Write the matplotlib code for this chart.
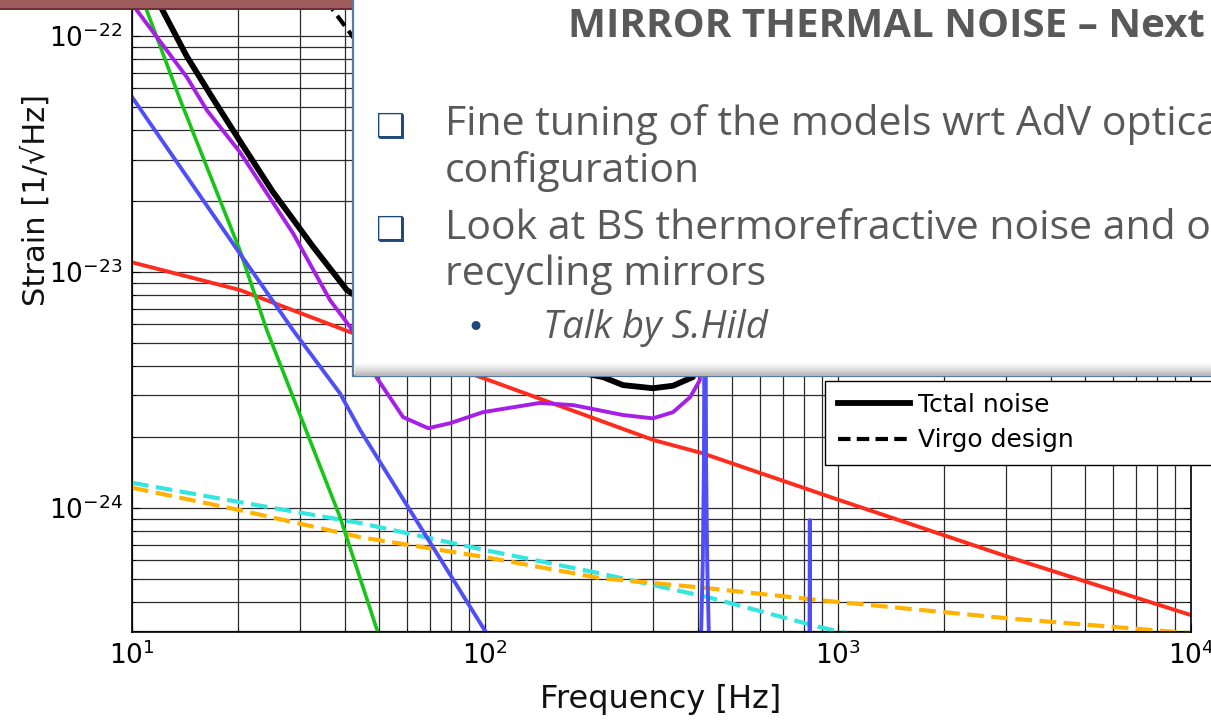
import matplotlib
matplotlib.use("Agg")
import matplotlib.pyplot as plt
from matplotlib.patches import Rectangle
from matplotlib.ticker import LogLocator, NullFormatter

# ===== data =====
red_f = [10, 20.2, 41.5, 98.6, 301, 412, 975, 3048, 10000]
red_h = [1.10e-23, 8.4e-24, 5.57e-24, 3.56e-24, 1.94e-24, 1.71e-24, 1.10e-24, 6.2e-25, 3.52e-25]

green_f = [10, 11.0, 13.7, 20.2, 24.1, 38.8, 49.8, 60]
green_h = [1.9e-22, 1.29e-22, 5.36e-23, 1.24e-23, 5.67e-24, 9.2e-25, 2.95e-25, 1.2e-25]

blue_f = [10, 20.2, 28.6, 38.8, 44.3, 101, 200,
          406, 410, 414, 417, 419, 420, 421, 423, 426, 430, 434,
          600, 826, 829, 831, 832, 833, 835, 838, 2000]
blue_h = [5.52e-23, 1.2e-23, 5.67e-24, 3.07e-24, 2.14e-24, 2.95e-25, 5e-26,
          2e-25, 3.2e-25, 6e-25, 1.5e-24, 1e-23, 1e-21, 1e-23, 1.5e-24, 6e-25, 3.2e-25, 2e-25,
          5e-26, 5e-26, 2e-25, 4e-25, 8.9e-25, 4e-25, 2e-25, 5e-26, 1e-26]

purple_f = [10, 14.3, 16.3, 20.2, 28.6, 36.4, 41.5, 49.4, 58.6, 69.0, 79.7, 98.7,
            143, 178, 246, 299, 341, 381, 406, 412, 416, 418]
purple_h = [1.37e-22, 6.7e-23, 4.85e-23, 3.23e-23, 1.46e-23, 7.6e-24, 5.85e-24, 3.56e-24,
            2.43e-24, 2.18e-24, 2.29e-24, 2.55e-24, 2.79e-24, 2.73e-24, 2.48e-24, 2.40e-24,
            2.55e-24, 2.95e-24, 3.48e-24, 8e-24, 1e-22, 1e-21]

total_f = [10, 12, 14.3, 17, 20.2, 25, 32.6, 40.6, 69, 100, 150, 216, 246, 299, 341, 388,
           400, 410, 416]
total_h = [2.4e-22, 1.35e-22, 8.2e-23, 5.4e-23, 3.6e-23, 2.2e-23, 1.28e-23, 8.4e-24, 4.9e-24,
           4.4e-24, 4.0e-24, 3.59e-24, 3.32e-24, 3.22e-24, 3.3e-24, 3.59e-24, 6e-24, 3e-23, 1e-21]

virgo_f = [30, 37.1, 41.5, 50, 70, 100, 200, 300, 500, 1000, 3000, 10000]
virgo_h = [3.5e-22, 1.29e-22, 1.03e-22, 7e-23, 4.5e-23, 3.5e-23, 3e-23, 3e-23, 3.5e-23,
           5.5e-23, 1.5e-22, 5e-22]

cyan_f = [10, 20.2, 44.3, 100, 209, 426, 889, 1059, 2000]
cyan_h = [1.28e-24, 1.06e-24, 8.64e-25, 6.64e-25, 5.31e-25, 4.2e-25, 3.13e-25, 2.95e-25, 2.2e-25]

orange_f = [10, 20.2, 44.3, 100, 212, 426, 889, 2972, 10000]
orange_h = [1.22e-24, 9.8e-25, 7.53e-25, 6.2e-25, 5.05e-25, 4.58e-25, 4.07e-25, 3.42e-25, 2.95e-25]

x_ticks = [1e1, 1e2, 1e3, 1e4]
y_ticks = [1e-24, 1e-23, 1e-22]

W, H = 1211, 722


def fx(px):
    return px / W


def fy(py):
    return 1 - py / H


fig = plt.figure(figsize=(W / 100, H / 100), dpi=100)
fig.patch.set_facecolor("white")

# axes placed in pixels: left 132, right 1191, top 4, bottom 632
ax = fig.add_axes([fx(132), fy(632), fx(1191) - fx(132), (632 - 4) / H])
ax.set_xscale("log")
ax.set_yscale("log")
ax.set_xlim(10, 1e4)
ax.set_ylim(2.985e-25, 1.368e-22)

ax.plot(cyan_f, cyan_h, color="#35E6DF", lw=3, ls=(0, (4, 1.8)))
ax.plot(orange_f, orange_h, color="#FFB300", lw=3, ls=(0, (4, 1.8)))
ax.plot(red_f, red_h, color="#FF2B1C", lw=2.8)
ax.plot(green_f, green_h, color="#19C419", lw=2.6)
ax.plot(purple_f, purple_h, color="#A51FE6", lw=2.8)
l_virgo, = ax.plot(virgo_f, virgo_h, color="black", lw=3, ls=(0, (3, 1.5)))
l_total, = ax.plot(total_f, total_h, color="black", lw=4.2)
ax.plot(blue_f, blue_h, color="#4F4FF5", lw=2.8)

ax.set_xticks(x_ticks)
ax.set_yticks(y_ticks)
ax.xaxis.set_minor_locator(LogLocator(base=10, subs=range(2, 10)))
ax.yaxis.set_minor_locator(LogLocator(base=10, subs=range(2, 10)))
ax.xaxis.set_minor_formatter(NullFormatter())
ax.yaxis.set_minor_formatter(NullFormatter())
ax.tick_params(which="both", direction="in", top=True, right=True, colors="black")
ax.tick_params(which="major", length=6, labelsize=19, pad=7)
ax.tick_params(which="minor", length=3)
ax.grid(True, which="both", color="#2b2b2b", lw=0.9)
ax.set_axisbelow(True)
for s in ax.spines.values():
    s.set_color("black")
    s.set_linewidth(1.2)

fig.text(fx(36), fy(200), "Strain [1/√Hz]", rotation=90, ha="center", va="center",
         fontsize=22, color="#111111")
fig.text(fx(661), fy(708), "Frequency [Hz]", ha="center", va="baseline",
         fontsize=23, color="#111111")

# legend (upper part hidden behind the text box)
ax.legend([l_total, l_virgo], ["Tctal noise", "Virgo design"],
          loc="lower left", bbox_to_anchor=(fx(825), fy(465), fx(1260) - fx(825), 0.1),
          bbox_transform=fig.transFigure, mode="expand", borderaxespad=0, fontsize=18,
          handlelength=2.9, handletextpad=0.3, borderpad=0.5, labelspacing=0.45,
          fancybox=False, framealpha=1, edgecolor="black")

# ===== slide elements =====
fig.add_artist(Rectangle((0, fy(9)), fx(360), 9 / H, transform=fig.transFigure,
                         facecolor="#9E5C5C", edgecolor="none", zorder=9))
fig.add_artist(Rectangle((0, fy(10)), fx(360), 2 / H, transform=fig.transFigure,
                         facecolor="#6E3030", edgecolor="none", zorder=9))

fig.add_artist(Rectangle((fx(353), fy(376)), fx(1280) - fx(353), fy(-20) - fy(376),
                         transform=fig.transFigure, facecolor="white",
                         edgecolor="#5A7AA6", lw=1.6, zorder=10))
shades = ["#f4f4f4", "#ebebeb", "#e0e0e0", "#d4d4d4", "#c6c6c6", "#b8b8b8"]
for i, c in enumerate(shades):
    fig.add_artist(Rectangle((fx(355), fy(364 + 2 * (i + 1))), fx(1280) - fx(355), 2 / H,
                             transform=fig.transFigure, facecolor=c, edgecolor="none",
                             zorder=10.5))

txt = dict(color="#595959", va="baseline", zorder=11, fontfamily=["Open Sans", "DejaVu Sans"])
fig.text(fx(568), fy(37), "MIRROR THERMAL NOISE – Next steps", fontsize=29,
         fontweight="bold", **txt)
fig.text(fx(445), fy(135), "Fine tuning of the models wrt AdV optical", fontsize=29.5, **txt)
fig.text(fx(445), fy(182), "configuration", fontsize=29.5, **txt)
fig.text(fx(445), fy(239), "Look at BS thermorefractive noise and on", fontsize=29.5, **txt)
fig.text(fx(445), fy(285), "recycling mirrors", fontsize=29.5, **txt)
fig.text(fx(543), fy(338), "Talk by S.Hild", fontsize=27.5, fontstyle="italic", **txt)

bul = dict(color="#1F497D", zorder=11, fontfamily=["DejaVu Sans"])
fig.text(fx(376), fy(137), "❑", fontsize=24, va="baseline", **bul)
fig.text(fx(376), fy(240), "❑", fontsize=24, va="baseline", **bul)
fig.text(fx(475), fy(328), "•", fontsize=22, ha="center", va="center", **bul)

fig.savefig("out.png", dpi=100)
